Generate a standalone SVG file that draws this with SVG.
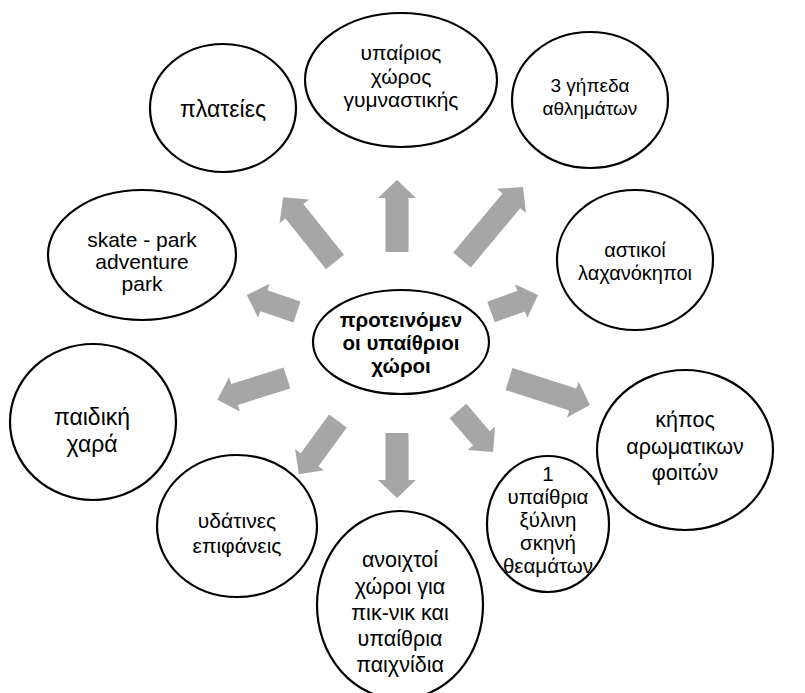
<svg xmlns="http://www.w3.org/2000/svg" width="805" height="693" viewBox="0 0 805 693">
<defs>
<style>
.n{fill:#fff;stroke:#000;stroke-width:2.2}
.t{font-family:"Liberation Sans","Noto Sans",sans-serif;font-size:19px;fill:#000;text-anchor:middle}
.b{font-weight:bold;font-size:20.5px}
.a{fill:#a6a6a6}
</style>
</defs>
<rect width="805" height="693" fill="#fff"/>
<g id="connectors">
<path class="a" transform="translate(397,252) rotate(-90)" d="M0,-11.5 H54 V-19 L72,0 L54,19 V11.5 H0 Z"/>
<path class="a" transform="translate(335,262) rotate(-128.7)" d="M0,-11.5 H65 V-19 L83,0 L65,19 V11.5 H0 Z"/>
<path class="a" transform="translate(462,260) rotate(-50.1)" d="M0,-11.5 H77 V-19 L95,0 L77,19 V11.5 H0 Z"/>
<path class="a" transform="translate(297,312) rotate(-161.2)" d="M0,-11 H35 V-18 L53,0 L35,18 V11 H0 Z"/>
<path class="a" transform="translate(491,312) rotate(-19.9)" d="M0,-11 H32 V-18 L50,0 L32,18 V11 H0 Z"/>
<path class="a" transform="translate(287,378) rotate(162.6)" d="M0,-11 H55 V-18 L73,0 L55,18 V11 H0 Z"/>
<path class="a" transform="translate(509,379) rotate(17.8)" d="M0,-11.5 H67 V-19 L85,0 L67,19 V11.5 H0 Z"/>
<path class="a" transform="translate(338,421) rotate(126.3)" d="M0,-11 H48 V-18 L66,0 L48,18 V11 H0 Z"/>
<path class="a" transform="translate(397,433) rotate(90)" d="M0,-11.5 H47 V-19 L65,0 L47,19 V11.5 H0 Z"/>
<path class="a" transform="translate(458,411) rotate(49.5)" d="M0,-11 H36 V-18 L54,0 L36,18 V11 H0 Z"/>
</g>
<g id="center">
<ellipse class="n" cx="401" cy="342" rx="88" ry="52"/>
<text class="t b" x="401" y="327">προτεινόμεν</text>
<text class="t b" x="401" y="350">οι υπαίθριοι</text>
<text class="t b" x="401" y="373">χώροι</text>
</g>
<g id="gym">
<ellipse class="n" cx="401" cy="80" rx="96" ry="67"/>
<text class="t" x="401" y="60" style="font-size:21px">υπαίριος</text>
<text class="t" x="401" y="84" style="font-size:21px">χώρος</text>
<text class="t" x="401" y="107" style="font-size:21px">γυμναστικής</text>
</g>
<g id="courts">
<ellipse class="n" cx="590" cy="100" rx="78" ry="68"/>
<text class="t" x="590" y="92">3 γήπεδα</text>
<text class="t" x="590" y="115">αθλημάτων</text>
</g>
<g id="squares">
<ellipse class="n" cx="223" cy="108" rx="73" ry="64"/>
<text class="t" x="223" y="117" style="font-size:23px">πλατείες</text>
</g>
<g id="gardens">
<ellipse class="n" cx="635" cy="260" rx="78" ry="70"/>
<text class="t" x="635" y="257" style="font-size:20px">αστικοί</text>
<text class="t" x="635" y="280" style="font-size:20px">λαχανόκηποι</text>
</g>
<g id="skate">
<ellipse class="n" cx="142" cy="255" rx="94" ry="65"/>
<text class="t" x="142" y="247" style="font-size:21px">skate - park</text>
<text class="t" x="142" y="269" style="font-size:21px">adventure</text>
<text class="t" x="142" y="291" style="font-size:21px">park</text>
</g>
<g id="aromatic">
<ellipse class="n" cx="685" cy="450" rx="88" ry="80"/>
<text class="t" x="685" y="427" style="font-size:21.5px">κήπος</text>
<text class="t" x="685" y="454" style="font-size:21.5px">αρωματικων</text>
<text class="t" x="685" y="480" style="font-size:21.5px">φοιτών</text>
</g>
<g id="playground">
<ellipse class="n" cx="93" cy="422" rx="83" ry="78"/>
<text class="t" x="92" y="425" style="font-size:23px">παιδική</text>
<text class="t" x="92" y="452" style="font-size:23px">χαρά</text>
</g>
<g id="stage">
<ellipse class="n" cx="548" cy="524" rx="61" ry="68"/>
<text class="t" x="548" y="481" style="font-size:20.5px">1</text>
<text class="t" x="548" y="504" style="font-size:20.5px">υπαίθρια</text>
<text class="t" x="548" y="527" style="font-size:20.5px">ξύλινη</text>
<text class="t" x="548" y="550" style="font-size:20.5px">σκηνή</text>
<text class="t" x="548" y="573" style="font-size:20.5px">θεαμάτων</text>
</g>
<g id="water">
<ellipse class="n" cx="237" cy="526" rx="80" ry="71"/>
<text class="t" x="237" y="528" style="font-size:21px">υδάτινες</text>
<text class="t" x="237" y="553" style="font-size:21px">επιφάνεις</text>
</g>
<g id="picnic">
<ellipse class="n" cx="400" cy="605" rx="83" ry="94"/>
<text class="t" x="400" y="567" style="font-size:21.5px">ανοιχτοί</text>
<text class="t" x="400" y="594" style="font-size:21.5px">χώροι για</text>
<text class="t" x="400" y="620" style="font-size:21.5px">πικ-νικ και</text>
<text class="t" x="400" y="646" style="font-size:21.5px">υπαίθρια</text>
<text class="t" x="400" y="672" style="font-size:21.5px">παιχνίδια</text>
</g>
</svg>
